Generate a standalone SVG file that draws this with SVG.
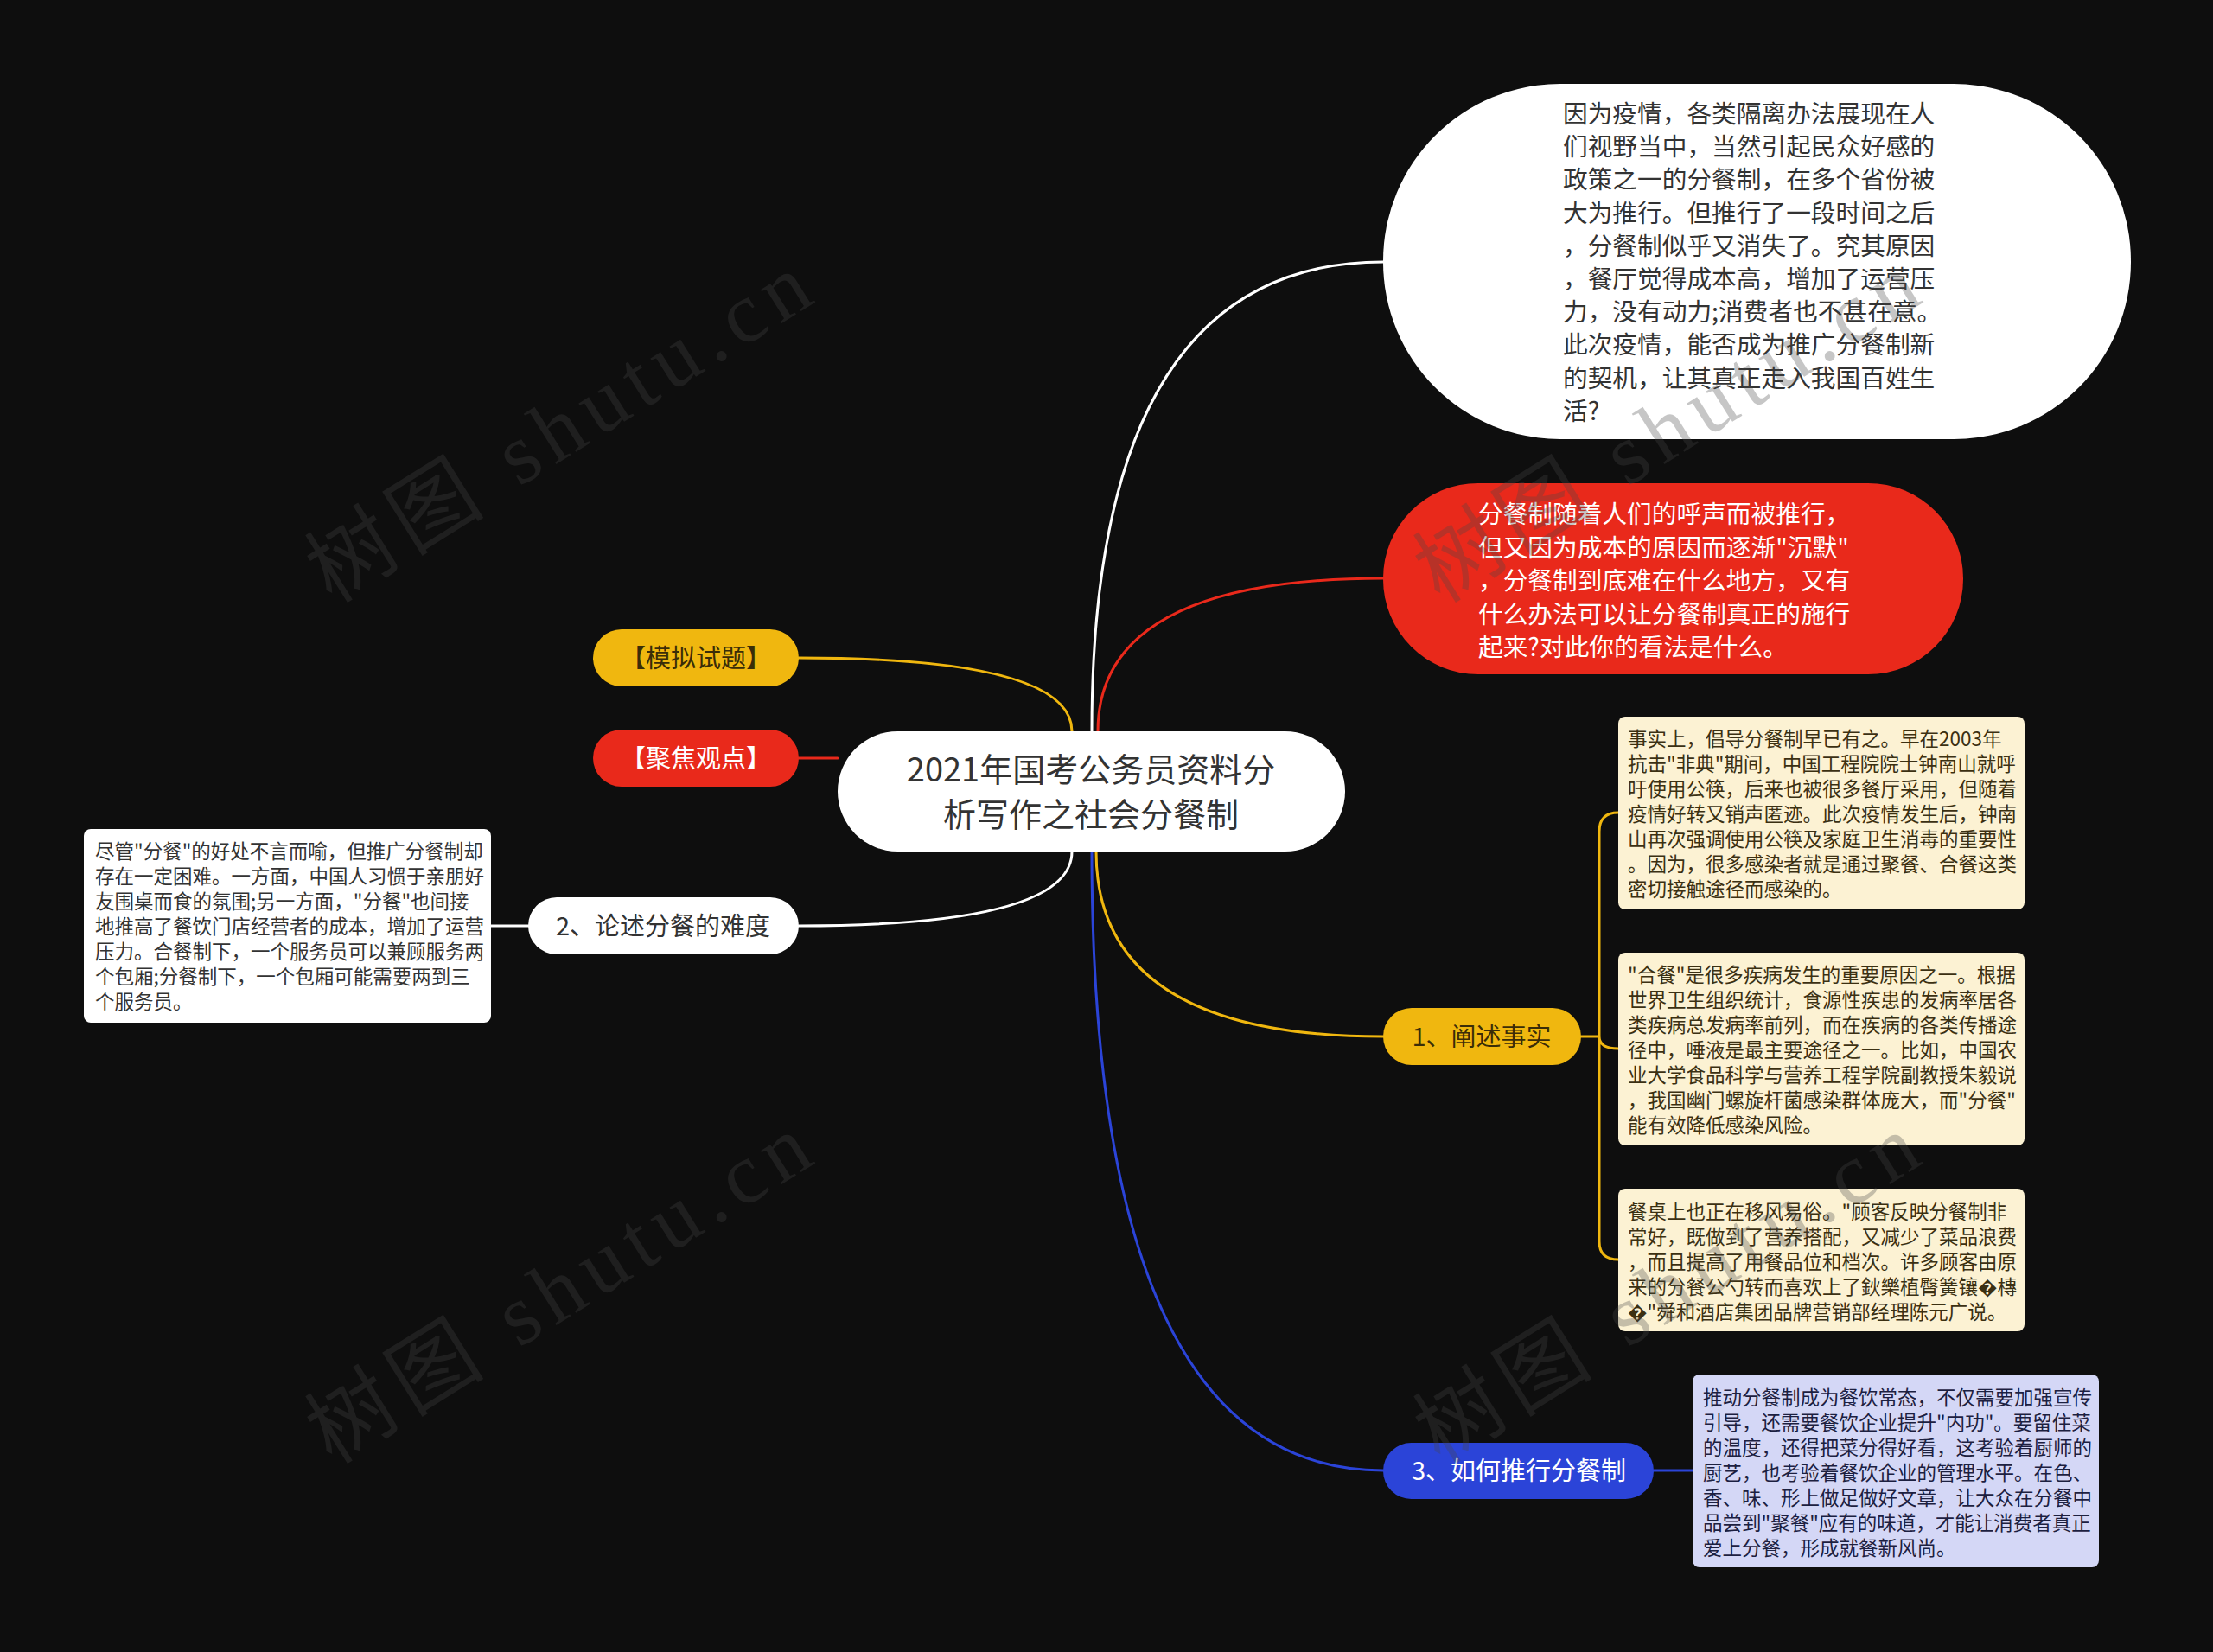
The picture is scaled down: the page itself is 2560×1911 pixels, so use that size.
<svg xmlns="http://www.w3.org/2000/svg" width="2560" height="1911" viewBox="0 0 2560 1911">
<style>
text{font-family:"Noto Sans CJK SC","Noto Sans",sans-serif;dominant-baseline:central}
.c{text-anchor:middle}
.dark{fill:#333333}
.wt{fill:#ffffff}
.yt{fill:#3a2d08}
.big{font-size:29px}
.sm{font-size:22.5px}
.bt{fill:#3b3012}
.lt{fill:#1c2040}
.lk{fill:none;stroke-width:3;stroke-linecap:round}
.wm{font-family:"Liberation Serif","Noto Sans CJK SC",serif;font-size:100px;letter-spacing:10px;fill:#474747;opacity:0.3;dominant-baseline:alphabetic}
</style>
<rect x="0" y="0" width="2560" height="1911" fill="#0e0e0e"/>
<g id="connectors">
<path class="lk" stroke="#ffffff" d="M1263,846 Q1263,303 1600,303"/>
<path class="lk" stroke="#e9291b" d="M1270,846 Q1270,669 1600,669"/>
<path class="lk" stroke="#f0b70f" d="M1240,846 Q1240,761 924,761"/>
<path class="lk" stroke="#e9291b" d="M924,877 H969"/>
<path class="lk" stroke="#ffffff" d="M1240,985 Q1240,1071 924,1071"/>
<path class="lk" stroke="#ffffff" d="M611,1071 H568"/>
<path class="lk" stroke="#f0b70f" d="M1268,985 Q1268,1199 1600,1199"/>
<path class="lk" stroke="#2b44d8" d="M1263,985 Q1263,1701 1600,1701"/>
<path class="lk" stroke="#f0b70f" d="M1829,1199 H1850 M1850,1199 V962 Q1850,940 1872,940 M1850,1199 Q1850,1213 1872,1213 M1850,1199 V1436 Q1850,1457 1872,1457"/>
<path class="lk" stroke="#2b44d8" d="M1913,1701 H1958"/>
</g>
<g id="center">
<rect x="969" y="846" width="587" height="139" rx="69.5" fill="#ffffff"/>
<text class="c dark" font-size="38" x="1262" y="887">2021年国考公务员资料分</text>
<text class="c dark" font-size="38" x="1262" y="939">析写作之社会分餐制</text>
</g>
<g id="node-intro">
<rect x="1600" y="97" width="865" height="411" rx="205" fill="#ffffff"/>
<text class="dark" font-size="28.7">
<tspan x="1808" y="129">因为疫情，各类隔离办法展现在人</tspan>
<tspan x="1808" y="167.2">们视野当中，当然引起民众好感的</tspan>
<tspan x="1808" y="205.4">政策之一的分餐制，在多个省份被</tspan>
<tspan x="1808" y="243.6">大为推行。但推行了一段时间之后</tspan>
<tspan x="1808" y="281.8">，分餐制似乎又消失了。究其原因</tspan>
<tspan x="1808" y="320">，餐厅觉得成本高，增加了运营压</tspan>
<tspan x="1808" y="358.2">力，没有动力;消费者也不甚在意。</tspan>
<tspan x="1808" y="396.4">此次疫情，能否成为推广分餐制新</tspan>
<tspan x="1808" y="434.6">的契机，让其真正走入我国百姓生</tspan>
<tspan x="1808" y="472.8">活?</tspan>
</text>
</g>
<g id="node-question">
<rect x="1600" y="559" width="671" height="221" rx="110" fill="#e9291b"/>
<text class="wt" font-size="28.7">
<tspan x="1710" y="592">分餐制随着人们的呼声而被推行，</tspan>
<tspan x="1710" y="630.5">但又因为成本的原因而逐渐"沉默"</tspan>
<tspan x="1710" y="669">，分餐制到底难在什么地方，又有</tspan>
<tspan x="1710" y="707.5">什么办法可以让分餐制真正的施行</tspan>
<tspan x="1710" y="746">起来?对此你的看法是什么。</tspan>
</text>
</g>
<g id="node-moni">
<rect x="686" y="728" width="238" height="66" rx="33" fill="#f0b70f"/>
<text class="c yt big" x="805" y="759">【模拟试题】</text>
</g>
<g id="node-jujiao">
<rect x="686" y="844" width="238" height="66" rx="33" fill="#e9291b"/>
<text class="c wt big" x="805" y="875">【聚焦观点】</text>
</g>
<g id="node-2">
<rect x="611" y="1038" width="313" height="66" rx="33" fill="#ffffff"/>
<text class="c dark big" x="767" y="1069">2、论述分餐的难度</text>
</g>
<g id="node-2-text">
<rect x="97" y="959" width="471" height="224" rx="8" fill="#ffffff"/>
<text class="dark sm">
<tspan x="110" y="983">尽管"分餐"的好处不言而喻，但推广分餐制却</tspan>
<tspan x="110" y="1012">存在一定困难。一方面，中国人习惯于亲朋好</tspan>
<tspan x="110" y="1041">友围桌而食的氛围;另一方面，"分餐"也间接</tspan>
<tspan x="110" y="1070">地推高了餐饮门店经营者的成本，增加了运营</tspan>
<tspan x="110" y="1099">压力。合餐制下，一个服务员可以兼顾服务两</tspan>
<tspan x="110" y="1128">个包厢;分餐制下，一个包厢可能需要两到三</tspan>
<tspan x="110" y="1157">个服务员。</tspan>
</text>
</g>
<g id="node-1">
<rect x="1600" y="1166" width="229" height="66" rx="33" fill="#f0b70f"/>
<text class="c yt big" x="1714" y="1197">1、阐述事实</text>
</g>
<g id="node-1a">
<rect x="1872" y="829" width="470" height="223" rx="8" fill="#fcf2d3"/>
<text class="bt sm">
<tspan x="1883" y="853">事实上，倡导分餐制早已有之。早在2003年</tspan>
<tspan x="1883" y="882">抗击"非典"期间，中国工程院院士钟南山就呼</tspan>
<tspan x="1883" y="911">吁使用公筷，后来也被很多餐厅采用，但随着</tspan>
<tspan x="1883" y="940">疫情好转又销声匿迹。此次疫情发生后，钟南</tspan>
<tspan x="1883" y="969">山再次强调使用公筷及家庭卫生消毒的重要性</tspan>
<tspan x="1883" y="998">。因为，很多感染者就是通过聚餐、合餐这类</tspan>
<tspan x="1883" y="1027">密切接触途径而感染的。</tspan>
</text>
</g>
<g id="node-1b">
<rect x="1872" y="1102" width="470" height="223" rx="8" fill="#fcf2d3"/>
<text class="bt sm">
<tspan x="1883" y="1126">"合餐"是很多疾病发生的重要原因之一。根据</tspan>
<tspan x="1883" y="1155">世界卫生组织统计，食源性疾患的发病率居各</tspan>
<tspan x="1883" y="1184">类疾病总发病率前列，而在疾病的各类传播途</tspan>
<tspan x="1883" y="1213">径中，唾液是最主要途径之一。比如，中国农</tspan>
<tspan x="1883" y="1242">业大学食品科学与营养工程学院副教授朱毅说</tspan>
<tspan x="1883" y="1271">，我国幽门螺旋杆菌感染群体庞大，而"分餐"</tspan>
<tspan x="1883" y="1300">能有效降低感染风险。</tspan>
</text>
</g>
<g id="node-1c">
<rect x="1872" y="1375" width="470" height="165" rx="8" fill="#fcf2d3"/>
<text class="bt sm">
<tspan x="1883" y="1400">餐桌上也正在移风易俗。"顾客反映分餐制非</tspan>
<tspan x="1883" y="1429">常好，既做到了营养搭配，又减少了菜品浪费</tspan>
<tspan x="1883" y="1458">，而且提高了用餐品位和档次。许多顾客由原</tspan>
<tspan x="1883" y="1487">来的分餐公勺转而喜欢上了鈥樂植臀簧镶�槫</tspan>
<tspan x="1883" y="1516">�"舜和酒店集团品牌营销部经理陈元广说。</tspan>
</text>
</g>
<g id="node-3">
<rect x="1600" y="1669" width="313" height="65" rx="32.5" fill="#2b44d8"/>
<text class="c wt big" x="1757" y="1699">3、如何推行分餐制</text>
</g>
<g id="node-3-text">
<rect x="1958" y="1590" width="470" height="223" rx="8" fill="#d4d7f6"/>
<text class="lt sm">
<tspan x="1970" y="1615">推动分餐制成为餐饮常态，不仅需要加强宣传</tspan>
<tspan x="1970" y="1644">引导，还需要餐饮企业提升"内功"。要留住菜</tspan>
<tspan x="1970" y="1673">的温度，还得把菜分得好看，这考验着厨师的</tspan>
<tspan x="1970" y="1702">厨艺，也考验着餐饮企业的管理水平。在色、</tspan>
<tspan x="1970" y="1731">香、味、形上做足做好文章，让大众在分餐中</tspan>
<tspan x="1970" y="1760">品尝到"聚餐"应有的味道，才能让消费者真正</tspan>
<tspan x="1970" y="1789">爱上分餐，形成就餐新风尚。</tspan>
</text>
</g>
<g id="watermarks">
<text class="wm" transform="translate(384,699) rotate(-32)">树图 shutu.cn</text>
<text class="wm" transform="translate(384,1695) rotate(-32)">树图 shutu.cn</text>
<text class="wm" transform="translate(1666,699) rotate(-32)">树图 shutu.cn</text>
<text class="wm" transform="translate(1666,1695) rotate(-32)">树图 shutu.cn</text>
</g>
</svg>
